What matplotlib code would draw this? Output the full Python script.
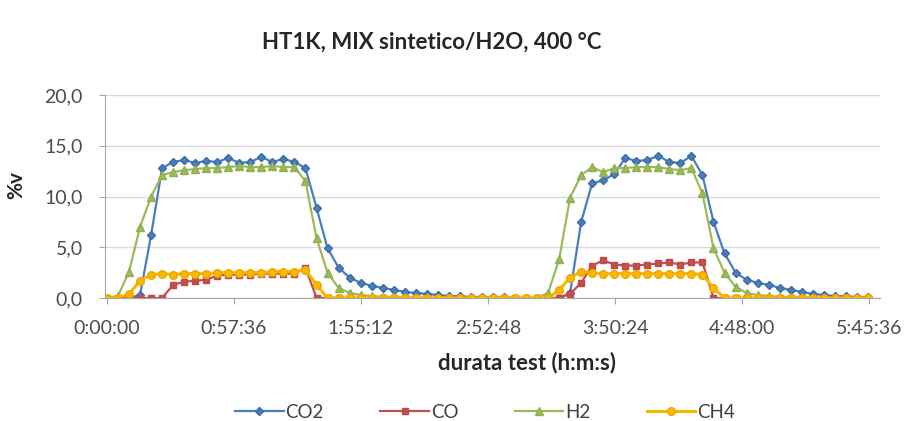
import matplotlib
matplotlib.use("Agg")
import matplotlib.pyplot as plt
from matplotlib.ticker import FixedLocator, FuncFormatter
import numpy as np

plt.rcParams['font.family'] = ['Lato', 'DejaVu Sans']

# time in minutes (5-min sampling)
time_min = list(range(0, 350, 5))

co2 = [0, 0, 0, 0.3, 6.2, 12.8, 13.4, 13.6, 13.3, 13.5, 13.4, 13.8, 13.3, 13.4, 13.9, 13.4, 13.7, 13.4, 12.8, 8.9,
       4.9, 3.0, 2.0, 1.5, 1.2, 1.0, 0.8, 0.6, 0.5, 0.4, 0.3, 0.2, 0.15, 0.1, 0.1, 0.05, 0.05, 0, 0, 0,
       0, 0, 0.5, 7.5, 11.3, 11.6, 12.2, 13.8, 13.5, 13.6, 14.0, 13.4, 13.3, 14.0, 12.1, 7.5, 4.4, 2.5, 1.8, 1.5,
       1.3, 1.0, 0.8, 0.6, 0.4, 0.3, 0.2, 0.15, 0.1, 0.1]

co = [0, 0, 0, 0, 0, 0, 1.3, 1.6, 1.7, 1.8, 2.2, 2.3, 2.3, 2.3, 2.4, 2.4, 2.4, 2.4, 3.0, 0,
      0, 0, 0, 0, 0, 0, 0, 0, 0, 0, 0, 0, 0, 0, 0, 0, 0, 0, 0, 0,
      0, 0, 0.4, 1.5, 3.2, 3.7, 3.3, 3.2, 3.2, 3.3, 3.4, 3.5, 3.3, 3.5, 3.5, 0, 0, 0, 0, 0,
      0, 0, 0, 0, 0, 0, 0, 0, 0, 0]

h2 = [0, 0.2, 2.6, 7.0, 10.0, 12.1, 12.4, 12.6, 12.7, 12.8, 12.8, 12.9, 13.0, 12.9, 12.9, 13.0, 12.9, 12.9, 11.5, 5.9,
      2.5, 1.0, 0.5, 0.3, 0.2, 0.1, 0.1, 0.05, 0, 0, 0, 0, 0, 0, 0, 0, 0, 0, 0, 0,
      0.5, 3.8, 9.9, 12.1, 12.9, 12.4, 12.8, 12.8, 12.9, 12.9, 12.9, 12.7, 12.6, 12.8, 10.3, 4.9, 2.5, 1.1, 0.5, 0.3,
      0.2, 0.1, 0.1, 0.05, 0, 0, 0, 0, 0, 0]

ch4 = [0, 0, 0.4, 1.7, 2.3, 2.4, 2.3, 2.4, 2.4, 2.4, 2.5, 2.5, 2.5, 2.5, 2.5, 2.6, 2.6, 2.6, 2.8, 1.3,
       0, 0, 0, 0, 0, 0, 0, 0, 0, 0, 0, 0, 0, 0, 0, 0, 0, 0, 0, 0,
       0, 0.8, 2.0, 2.6, 2.5, 2.4, 2.4, 2.4, 2.4, 2.4, 2.4, 2.4, 2.4, 2.4, 2.3, 1.0, 0, 0, 0, 0,
       0, 0, 0, 0, 0, 0, 0, 0, 0, 0]

series_names = ["CO2", "CO", "H2", "CH4"]
title = "HT1K, MIX sintetico/H2O, 400 °C"
xlabel = "durata test (h:m:s)"
ylabel = "%v"
xtick_minutes = [0, 57.6, 115.2, 172.8, 230.4, 288.0, 345.6]
yticks = [0, 5, 10, 15, 20]

fig = plt.figure(figsize=(9.10, 4.21), dpi=100)
ax = fig.add_axes([105/910, 1-298/421, 775/910, 203/421])

styles = [
    dict(color='#4A7EBB', marker='D', ms=4.5, mec='#3A6BAA', lw=1.6),
    dict(color='#C0504D', marker='s', ms=4.5, mec='#BE4B48', lw=1.6),
    dict(color='#9BBB59', marker='^', ms=5.5, mec='#8FB04E', lw=1.6),
    dict(color='#F8B800', marker='o', ms=5.5, mec='#F0A800', lw=2.2),
]
for vals, name, st in zip([co2, co, h2, ch4], series_names, styles):
    ax.plot(time_min, vals, label=name, **st)

ax.set_xlim(-0.9, 350.5)
ax.set_ylim(0, 20)
ax.yaxis.set_major_locator(FixedLocator(yticks))
ax.yaxis.set_major_formatter(FuncFormatter(lambda v, p: f"{v:.1f}".replace('.', ',')))
ax.xaxis.set_major_locator(FixedLocator(xtick_minutes))

def fmt_time(v, p):
    s = int(round(v * 60))
    return f"{s//3600}:{(s%3600)//60:02d}:{s%60:02d}"
ax.xaxis.set_major_formatter(FuncFormatter(fmt_time))

ax.grid(axis='y', color='#D9D9D9', lw=1)
ax.set_axisbelow(True)
for sp in ['top', 'right']:
    ax.spines[sp].set_visible(False)
for sp in ['left', 'bottom']:
    ax.spines[sp].set_color('#A6A6A6')
ax.tick_params(axis='both', colors='#A6A6A6', labelcolor='#4D4D4D', labelsize=14, length=4, direction='out')
ax.tick_params(axis='x', pad=12)
ax.tick_params(axis='y', pad=12)

fig.text(432/910, 1-42/421, title, ha='center', va='center', fontsize=16, fontweight='bold', color='#262626')
fig.text(527/910, 1-363/421, xlabel, ha='center', va='center', fontsize=16, fontweight='bold', color='#262626')
fig.text(16/910, 1-185/421, ylabel, ha='center', va='center', fontsize=15, fontweight='bold', rotation=90, color='#262626')

fig.legend(loc='center', bbox_to_anchor=(485/910, 1-412/421), ncol=4, frameon=False, fontsize=13.5,
           handlelength=2.6, handletextpad=0.1, columnspacing=3.0, labelcolor='#404040')

fig.savefig("out.png", dpi=100)
